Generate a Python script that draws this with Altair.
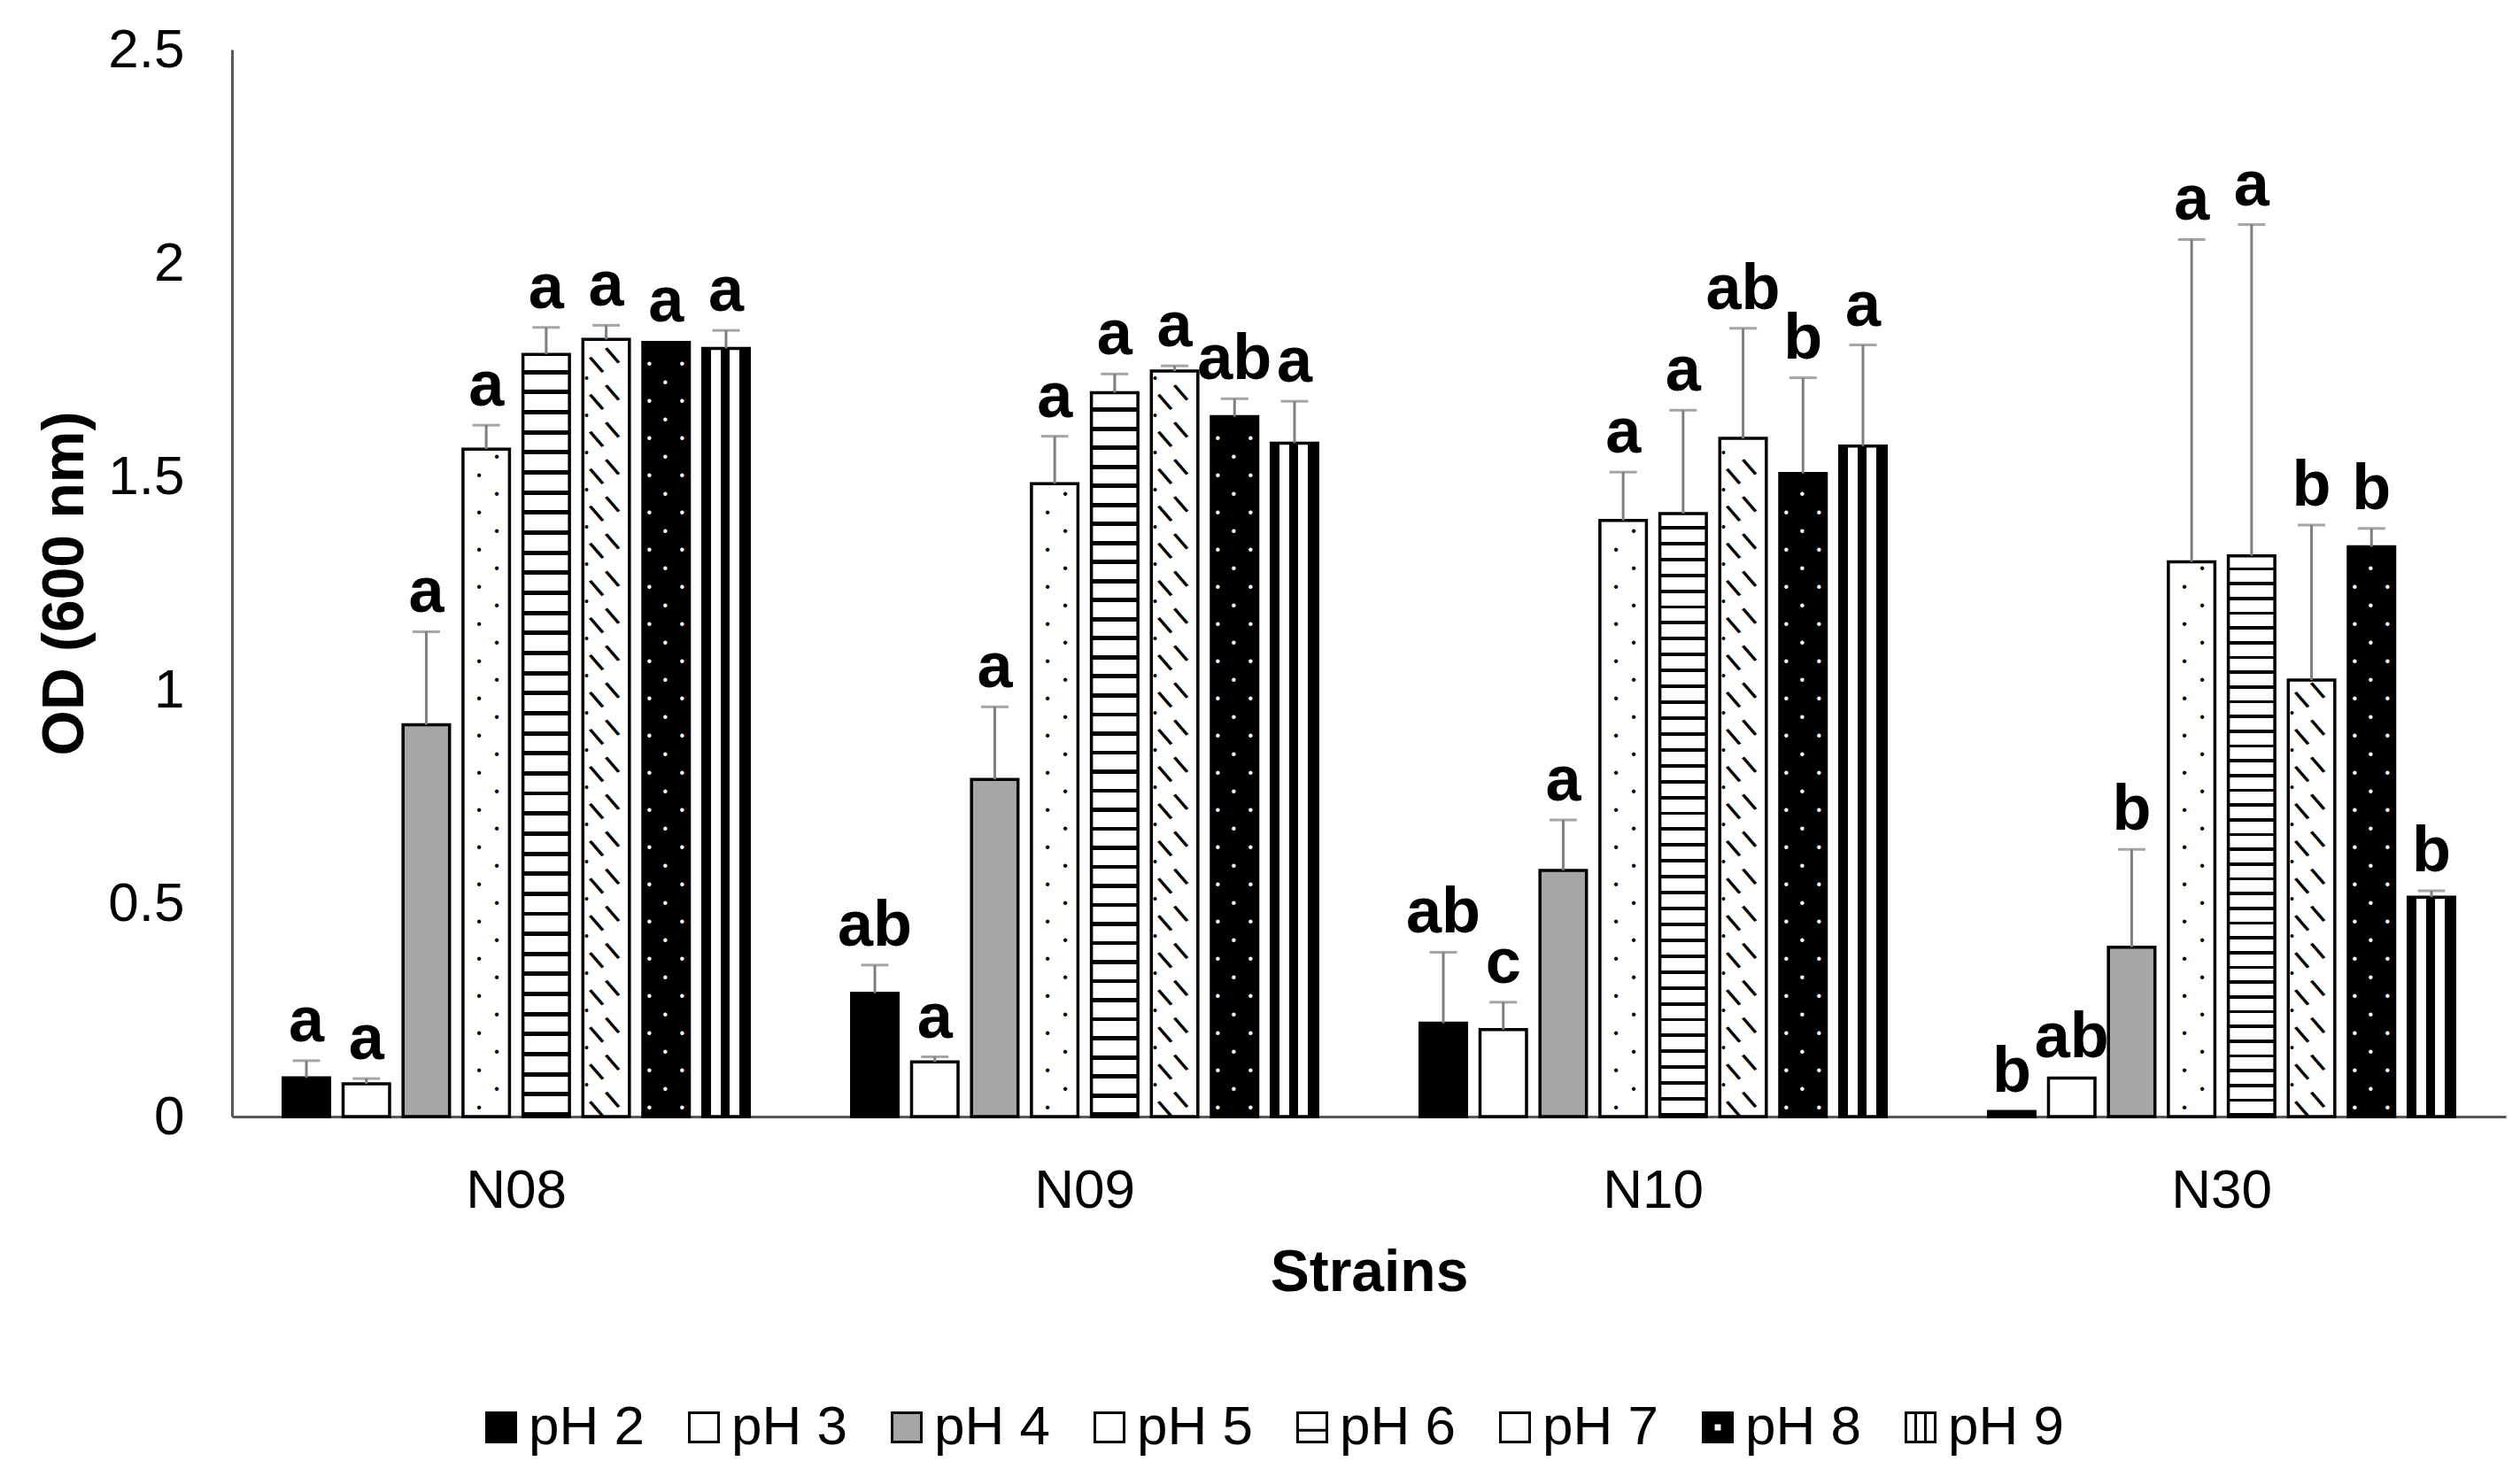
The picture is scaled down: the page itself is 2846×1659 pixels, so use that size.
import altair as alt
import pandas as pd

# ---------------- data ----------------
strains = ["N08", "N09", "N10", "N30"]
ph_levels = ["pH 2", "pH 3", "pH 4", "pH 5", "pH 6", "pH 7", "pH 8", "pH 9"]

od_N08 = [0.091, 0.077, 0.918, 1.564, 1.786, 1.821, 1.814, 1.800]
od_N09 = [0.289, 0.128, 0.790, 1.483, 1.696, 1.747, 1.640, 1.578]
od_N10 = [0.219, 0.204, 0.577, 1.397, 1.413, 1.589, 1.507, 1.571]
od_N30 = [0.012, 0.090, 0.397, 1.300, 1.314, 1.023, 1.335, 0.514]

err_N08 = [0.040, 0.012, 0.218, 0.056, 0.063, 0.033, 0.003, 0.042]
err_N09 = [0.066, 0.012, 0.170, 0.111, 0.044, 0.012, 0.042, 0.098]
err_N10 = [0.166, 0.064, 0.118, 0.113, 0.242, 0.258, 0.224, 0.237]
err_N30 = [0.000, 0.004, 0.229, 0.755, 0.776, 0.363, 0.043, 0.015]

let_N08 = ["a", "a", "a", "a", "a", "a", "a", "a"]
let_N09 = ["ab", "a", "a", "a", "a", "a", "ab", "a"]
let_N10 = ["ab", "c", "a", "a", "a", "ab", "b", "a"]
let_N30 = ["b", "ab", "b", "a", "a", "b", "b", "b"]

rows = []
for s, means, errs, lets in zip(
    strains,
    [od_N08, od_N09, od_N10, od_N30],
    [err_N08, err_N09, err_N10, err_N30],
    [let_N08, let_N09, let_N10, let_N30],
):
    for p, m, e, l in zip(ph_levels, means, errs, lets):
        rows.append({"strain": s, "pH": p, "mean": m, "err": e, "letter": l})
df = pd.DataFrame(rows)

# ---------------- styles ----------------
FONT = "Liberation Sans"
base_colors = ["#000000", "#ffffff", "#a6a6a6", "#ffffff",
               "#ffffff", "#ffffff", "#000000", "#ffffff"]

legend_shapes = [
    "square", "square", "square", "square",
    "M-1,-1H1V1H-1Z M-1,0.2H1",
    "square",
    "M-1,-1H1V1H-1Z M-0.3,-0.3V0.3H0.3V-0.3Z",
    "M-1,-1H1V1H-1Z M-0.33,-1V1 M0.33,-1V1",
]


def seg_stops(segments):
    out = []
    for a, b, c in segments:
        out.append({"offset": round(a, 4), "color": c})
        out.append({"offset": round(b, 4), "color": c})
    return out


# horizontal stripes (pH 6)
n_h = 38
h_segs = []
for i in range(n_h):
    h_segs.append((i / n_h, (i + 0.78) / n_h, "#ffffff"))
    h_segs.append(((i + 0.78) / n_h, (i + 1) / n_h, "#000000"))
grad_h = {"gradient": "linear", "x1": 0, "y1": 0, "x2": 0, "y2": 1,
          "stops": seg_stops(h_segs)}

# vertical stripes (pH 9)
v_segs = [(0, 0.17, "#000000"), (0.17, 0.39, "#ffffff"), (0.39, 0.57, "#000000"),
          (0.57, 0.79, "#ffffff"), (0.79, 1, "#000000")]
grad_v = {"gradient": "linear", "x1": 0, "y1": 0, "x2": 1, "y2": 0,
          "stops": seg_stops(v_segs)}

legend = alt.Legend(
    title=None, orient="none", legendX=273, legendY=1525,
    direction="horizontal", symbolSize=1089, symbolStrokeWidth=3,
    labelFont=FONT, labelFontSize=62, labelColor="black",
    labelOffset=0, columnPadding=36, padding=0,
)

x_enc = alt.X(
    "strain:N", sort=strains,
    scale=alt.Scale(domain=strains, paddingInner=0.18, paddingOuter=0.09),
    axis=alt.Axis(title="Strains", labelAngle=0),
)
xoff_enc = alt.XOffset(
    "pH:N", sort=ph_levels,
    scale=alt.Scale(domain=ph_levels, paddingInner=0.2245, paddingOuter=0),
)
y_axis = alt.Axis(title="OD (600 nm)", values=[0, 0.5, 1, 1.5, 2, 2.5], format="~g")
y_scale = alt.Scale(domain=[0, 2.5], nice=False, zero=True)
fill_scale = alt.Scale(domain=ph_levels, range=base_colors)
shape_scale = alt.Scale(domain=ph_levels, range=legend_shapes)

base = alt.Chart(df).transform_calculate(
    upper="datum.mean + datum.err", mid="datum.mean / 2"
)

# hidden points (behind the bars) that carry the patterned legend symbols
legend_pts = base.transform_filter("datum.mean > 0.3").mark_point(
    filled=True, size=10, stroke="black", strokeWidth=3, opacity=1
).encode(
    x=x_enc, xOffset=xoff_enc,
    y=alt.Y("mid:Q", scale=y_scale, axis=y_axis),
    fill=alt.Fill("pH:N", scale=fill_scale, legend=legend, sort=ph_levels),
    shape=alt.Shape("pH:N", scale=shape_scale, legend=legend, sort=ph_levels),
)

bars = base.mark_bar(stroke="black", strokeWidth=3.5).encode(
    x=x_enc, xOffset=xoff_enc,
    y=alt.Y("mean:Q", scale=y_scale, axis=y_axis),
    fill=alt.Fill(
        "pH:N", scale=fill_scale, legend=legend, sort=ph_levels,
        condition=[
            {"test": "datum.pH === 'pH 6'", "value": grad_h},
            {"test": "datum.pH === 'pH 9'", "value": grad_v},
        ],
    ),
)


def texture(ph, step, start, parity, glyph, dx, color, size, weight="normal", angle=0):
    """Small pattern glyphs stacked inside the bars of one pH level."""
    mark_kw = dict(text=glyph, dx=dx, color=color, fontSize=size, font=FONT,
                   fontWeight=weight, baseline="middle", align="center")
    if angle:
        mark_kw["angle"] = angle
    return (
        base.transform_filter(f"datum.pH === '{ph}'")
        .transform_calculate(
            dots=f"sequence({start}, datum.mean - 0.012, {step})"
        )
        .transform_flatten(["dots"])
        .transform_calculate(row=f"round((datum.dots - {start}) / {step}) % 2")
        .transform_filter(f"datum.row === {parity}")
        .mark_text(**mark_kw)
        .encode(
            x=x_enc, xOffset=xoff_enc,
            y=alt.Y("dots:Q", scale=y_scale, axis=y_axis),
        )
    )


tex_layers = [
    # pH 5: sparse black dots in two alternating columns
    texture("pH 5", 0.0436, 0.02, 0, "•", -8, "black", 16),
    texture("pH 5", 0.0436, 0.02, 1, "•", 12, "black", 16),
    # pH 7: diagonal dashes
    texture("pH 7", 0.0436, 0.028, 0, "\\", -12, "black", 29, "bold", 330),
    texture("pH 7", 0.0436, 0.028, 0, "\\", 9, "black", 29, "bold", 330),
    texture("pH 7", 0.0436, 0.028, 1, "•", -22, "black", 14),
    # pH 8: white dots on black
    texture("pH 8", 0.0436, 0.02, 0, "•", -19, "white", 16),
    texture("pH 8", 0.0436, 0.02, 0, "•", 18, "white", 16),
    texture("pH 8", 0.0436, 0.02, 1, "•", -1, "white", 16),
]

err_rule = base.transform_filter("datum.err > 0.005").mark_rule(
    color="#7f7f7f", strokeWidth=3
).encode(
    x=x_enc, xOffset=xoff_enc,
    y=alt.Y("upper:Q", scale=y_scale, axis=y_axis),
    y2="mean:Q",
)

err_cap = base.transform_filter("datum.err > 0.005").mark_tick(
    color="#7f7f7f", thickness=3, size=31
).encode(
    x=x_enc, xOffset=xoff_enc,
    y=alt.Y("upper:Q", scale=y_scale, axis=y_axis),
)

labels = base.mark_text(
    dy=-22, baseline="alphabetic", fontSize=72, fontWeight="bold",
    font=FONT, color="black"
).encode(
    x=x_enc, xOffset=xoff_enc,
    y=alt.Y("upper:Q", scale=y_scale, axis=y_axis),
    text="letter:N",
)

chart = alt.layer(legend_pts, bars, *tex_layers, err_rule, err_cap, labels).properties(
    width=2568, height=1205,
    autosize=alt.AutoSizeParams(type="none"),
    padding={"left": 254, "top": 48, "right": 8, "bottom": 390},
    background="white",
).configure_view(stroke=None).configure_axis(
    domainColor="#595959", domainWidth=3, ticks=False, tickSize=0, grid=False,
    labelFont=FONT, labelFontSize=62, labelColor="black",
    titleFont=FONT, titleFontSize=66, titleFontWeight="bold", titleColor="black",
).configure_axisY(labelPadding=54, titlePadding=14).configure_axisX(
    labelPadding=53, titlePadding=30
)

chart.save("out.html", embed_options={"renderer": "svg", "actions": False})
